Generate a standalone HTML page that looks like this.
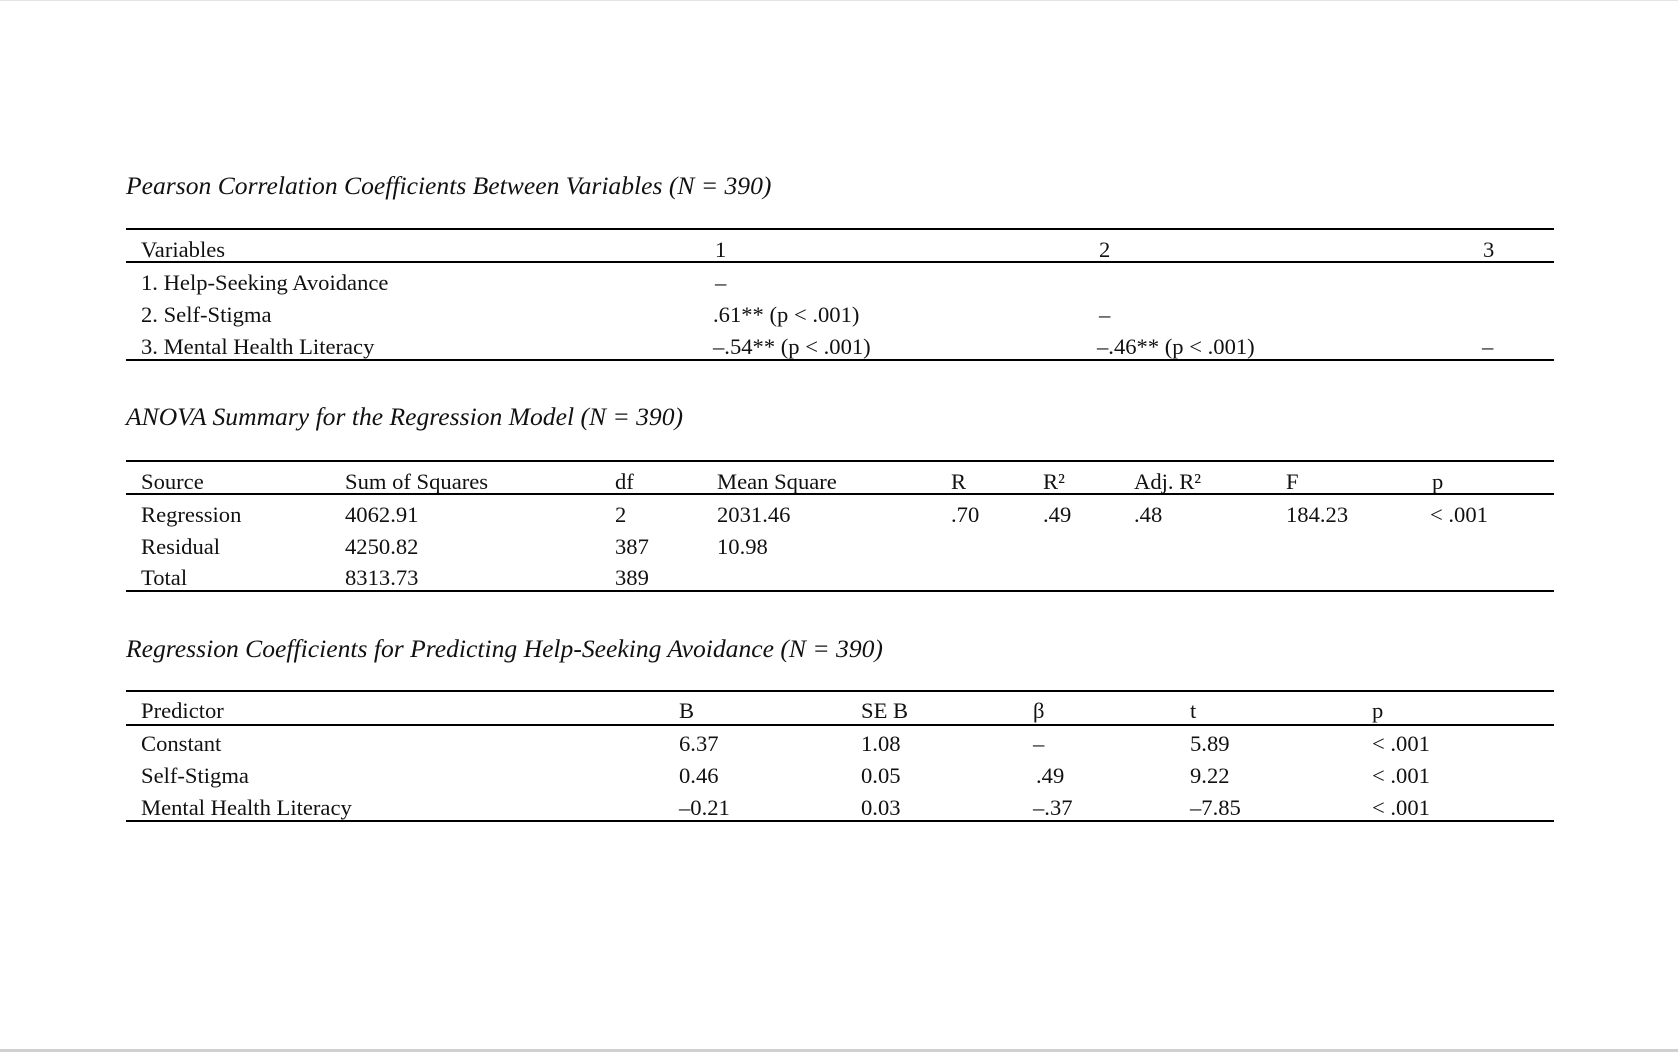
<!DOCTYPE html>
<html><head><meta charset="utf-8"><style>
html,body{margin:0;padding:0;background:#fff;}
body{width:1678px;height:1052px;position:relative;overflow:hidden;font-family:"Liberation Serif","Times New Roman",serif;color:#111;font-size:22.6px;}
.t{position:absolute;line-height:30px;white-space:nowrap;margin-top:1px;}
.h{position:absolute;line-height:30px;white-space:nowrap;font-style:italic;font-size:25.6px;}
.l{position:absolute;left:126px;width:1428px;height:1.5px;background:#000;}
</style></head><body>
<div style="position:absolute;left:0;top:0;width:1678px;height:1px;background:#e4e4e4"></div>
<div style="position:absolute;left:0;top:1049px;width:1678px;height:3px;background:#d0d0d0"></div>

<div class="h" style="left:126px;top:171px">Pearson Correlation Coefficients Between Variables (N = 390)</div>
<div class="l" style="top:228px"></div>
<div class="t" style="left:141px;top:234px">Variables</div>
<div class="t" style="left:715px;top:234px">1</div>
<div class="t" style="left:1099px;top:234px">2</div>
<div class="t" style="left:1483px;top:234px">3</div>
<div class="l" style="top:261px"></div>
<div class="t" style="left:141px;top:267px">1. Help-Seeking Avoidance</div>
<div class="t" style="left:715px;top:267px">–</div>
<div class="t" style="left:141px;top:299px">2. Self-Stigma</div>
<div class="t" style="left:713px;top:299px">.61** (p &lt; .001)</div>
<div class="t" style="left:1099px;top:299px">–</div>
<div class="t" style="left:141px;top:331px">3. Mental Health Literacy</div>
<div class="t" style="left:713px;top:331px">–.54** (p &lt; .001)</div>
<div class="t" style="left:1097px;top:331px">–.46** (p &lt; .001)</div>
<div class="t" style="left:1482px;top:331px">–</div>
<div class="l" style="top:359px"></div>

<div class="h" style="left:126px;top:402px">ANOVA Summary for the Regression Model (N = 390)</div>
<div class="l" style="top:460px"></div>
<div class="t" style="left:141px;top:466px">Source</div>
<div class="t" style="left:345px;top:466px">Sum of Squares</div>
<div class="t" style="left:615px;top:466px">df</div>
<div class="t" style="left:717px;top:466px">Mean Square</div>
<div class="t" style="left:951px;top:466px">R</div>
<div class="t" style="left:1043px;top:466px">R²</div>
<div class="t" style="left:1134px;top:466px">Adj. R²</div>
<div class="t" style="left:1286px;top:466px">F</div>
<div class="t" style="left:1432px;top:466px">p</div>
<div class="l" style="top:493px"></div>
<div class="t" style="left:141px;top:499px">Regression</div>
<div class="t" style="left:345px;top:499px">4062.91</div>
<div class="t" style="left:615px;top:499px">2</div>
<div class="t" style="left:717px;top:499px">2031.46</div>
<div class="t" style="left:951px;top:499px">.70</div>
<div class="t" style="left:1043px;top:499px">.49</div>
<div class="t" style="left:1134px;top:499px">.48</div>
<div class="t" style="left:1286px;top:499px">184.23</div>
<div class="t" style="left:1430px;top:499px">&lt; .001</div>
<div class="t" style="left:141px;top:531px">Residual</div>
<div class="t" style="left:345px;top:531px">4250.82</div>
<div class="t" style="left:615px;top:531px">387</div>
<div class="t" style="left:717px;top:531px">10.98</div>
<div class="t" style="left:141px;top:562px">Total</div>
<div class="t" style="left:345px;top:562px">8313.73</div>
<div class="t" style="left:615px;top:562px">389</div>
<div class="l" style="top:590px"></div>

<div class="h" style="left:126px;top:634px">Regression Coefficients for Predicting Help-Seeking Avoidance (N = 390)</div>
<div class="l" style="top:690px"></div>
<div class="t" style="left:141px;top:695px">Predictor</div>
<div class="t" style="left:679px;top:695px">B</div>
<div class="t" style="left:861px;top:695px">SE B</div>
<div class="t" style="left:1033px;top:695px">β</div>
<div class="t" style="left:1190px;top:695px">t</div>
<div class="t" style="left:1372px;top:695px">p</div>
<div class="l" style="top:724px"></div>
<div class="t" style="left:141px;top:728px">Constant</div>
<div class="t" style="left:679px;top:728px">6.37</div>
<div class="t" style="left:861px;top:728px">1.08</div>
<div class="t" style="left:1033px;top:728px">–</div>
<div class="t" style="left:1190px;top:728px">5.89</div>
<div class="t" style="left:1372px;top:728px">&lt; .001</div>
<div class="t" style="left:141px;top:760px">Self-Stigma</div>
<div class="t" style="left:679px;top:760px">0.46</div>
<div class="t" style="left:861px;top:760px">0.05</div>
<div class="t" style="left:1036px;top:760px">.49</div>
<div class="t" style="left:1190px;top:760px">9.22</div>
<div class="t" style="left:1372px;top:760px">&lt; .001</div>
<div class="t" style="left:141px;top:792px">Mental Health Literacy</div>
<div class="t" style="left:679px;top:792px">–0.21</div>
<div class="t" style="left:861px;top:792px">0.03</div>
<div class="t" style="left:1033px;top:792px">–.37</div>
<div class="t" style="left:1190px;top:792px">–7.85</div>
<div class="t" style="left:1372px;top:792px">&lt; .001</div>
<div class="l" style="top:820px"></div>
</body></html>
